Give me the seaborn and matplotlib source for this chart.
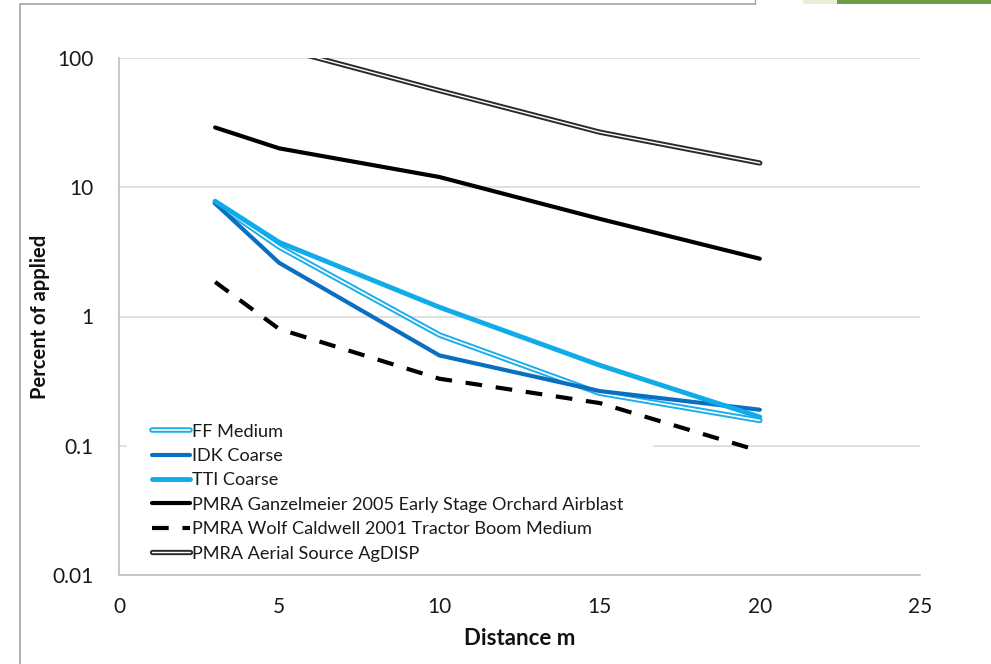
import numpy as np
import pandas as pd
import matplotlib
matplotlib.use("Agg")
import matplotlib.pyplot as plt
import matplotlib.patheffects as pe
from matplotlib.lines import Line2D
from matplotlib.patches import Rectangle
import seaborn as sns

# ---- data ----
distance = [3, 5, 10, 15, 20]
ff_medium = [7.6, 3.45, 0.72, 0.255, 0.157]
idk_coarse = [7.5, 2.6, 0.50, 0.265, 0.19]
tti_coarse = [7.8, 3.75, 1.18, 0.42, 0.167]
ganzelmeier = [29.0, 20.0, 12.0, 5.7, 2.8]
wolf_caldwell = [1.85, 0.80, 0.33, 0.214, 0.091]
aerial = [180.0, 120.0, 56.0, 26.7, 15.4]

labels = ["FF Medium", "IDK Coarse", "TTI Coarse",
          "PMRA Ganzelmeier 2005 Early Stage Orchard Airblast",
          "PMRA Wolf Caldwell 2001 Tractor Boom Medium",
          "PMRA Aerial Source AgDISP"]
y_ticks = [0.01, 0.1, 1, 10, 100]
y_ticklabels = ["0.01", "0.1", "1", "10", "100"]
x_ticks = [0, 5, 10, 15, 20, 25]

sns.set_theme(style="white")
plt.rcParams["font.family"] = ["Lato", "DejaVu Sans"]

fig = plt.figure(figsize=(9.91, 6.64), dpi=100)
ax = fig.add_axes([119/991, 1-575/664, (920-119)/991, (575-58)/664])

series = [ff_medium, idk_coarse, tti_coarse, ganzelmeier, wolf_caldwell, aerial]
df = pd.DataFrame({"Distance": distance * len(series),
                   "Value": sum(series, []),
                   "Series": np.repeat(labels, len(distance))})

styles = {
    "FF Medium": dict(color="white", lw=1.2, pe_col="#1CAEEA", pe_lw=4.0, dash=None),
    "IDK Coarse": dict(color="#0A6FC0", lw=3.0, pe_col=None, pe_lw=None, dash=None),
    "TTI Coarse": dict(color="#10ACEA", lw=3.5, pe_col=None, pe_lw=None, dash=None),
    labels[3]: dict(color="black", lw=3.0, pe_col=None, pe_lw=None, dash=None),
    labels[4]: dict(color="black", lw=3.0, pe_col=None, pe_lw=None, dash=(4, 3.3)),
    labels[5]: dict(color="white", lw=1.0, pe_col="#2A2A2A", pe_lw=3.8, dash=None),
}

handles = []
for lab in labels:
    st = styles[lab]
    sub = df[df["Series"] == lab]
    n_before = len(ax.lines)
    sns.lineplot(data=sub, x="Distance", y="Value", ax=ax, color=st["color"],
                 linewidth=st["lw"], legend=False, estimator=None, sort=False,
                 zorder=3)
    line = ax.lines[n_before]
    line.set_solid_capstyle("round")
    if st["dash"] is not None:
        line.set_dashes(st["dash"])
        line.set_dash_capstyle("butt")
    if st["pe_col"] is not None:
        line.set_path_effects([pe.Stroke(linewidth=st["pe_lw"], foreground=st["pe_col"]),
                               pe.Normal()])
    line.set_label(lab)
    handles.append(line)

ax.set_yscale("log")
ax.set_ylim(0.01, 100)
ax.set_xlim(0, 25)
ax.set_yticks(y_ticks)
ax.set_yticklabels(y_ticklabels)
ax.set_xticks(x_ticks)
ax.yaxis.set_minor_locator(matplotlib.ticker.NullLocator())
ax.tick_params(axis="both", length=0, labelsize=15, colors="#1A1A1A")
ax.tick_params(axis="y", pad=18.5)
ax.tick_params(axis="x", pad=16)
ax.grid(axis="y", color="#DADADA", linewidth=1.2, zorder=0)
ax.grid(axis="x", visible=False)
for s in ["top", "right"]:
    ax.spines[s].set_visible(False)
for s in ["left", "bottom"]:
    ax.spines[s].set_color("#BFBFBF")
    ax.spines[s].set_linewidth(1.2)
ax.set_axisbelow(True)

ax.set_xlabel("Distance m", fontsize=16, fontweight="bold", labelpad=8, color="#111111")
ax.set_ylabel("Percent of applied", fontsize=14.5, fontweight="bold", labelpad=1.5, color="#111111")

# white legend area (Excel legend box)
ax.add_patch(Rectangle((0.01, 0.017), 0.657, 0.287, transform=ax.transAxes,
                       facecolor="white", edgecolor="none", zorder=1.5))

leg = ax.legend(handles=handles, loc="upper left", bbox_to_anchor=(0.033, 0.305),
                fontsize=13.1, frameon=False, handlelength=2.1, handletextpad=0.13,
                labelspacing=0.46, borderpad=0.35, borderaxespad=0)
for t in leg.get_texts():
    t.set_color("#1A1A1A")
leg.set_zorder(5)

# outer frame of the screenshot
fig.add_artist(Line2D([20/991, 20/991], [0, 1-4/664], transform=fig.transFigure,
                      color="#A6A6A6", lw=1.2))
fig.add_artist(Line2D([20/991, 755/991], [1-4/664, 1-4/664], transform=fig.transFigure,
                      color="#A6A6A6", lw=1.2))
fig.add_artist(Line2D([755/991, 755/991], [1-4/664, 1], transform=fig.transFigure,
                      color="#A6A6A6", lw=1.0))
fig.add_artist(Rectangle((803/991, 1-4/664), 34/991, 4/664, transform=fig.transFigure,
                         color="#E6F0D8", lw=0))
fig.add_artist(Rectangle((837/991, 1-4/664), 154/991, 4/664, transform=fig.transFigure,
                         color="#6E9E45", lw=0))

fig.savefig("out.png", dpi=100)
